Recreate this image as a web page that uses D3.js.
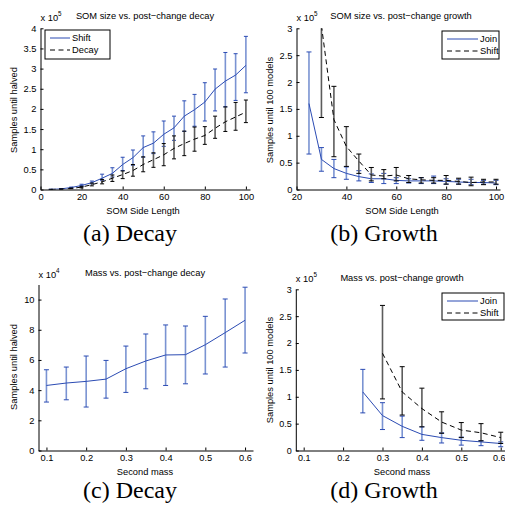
<!DOCTYPE html>
<html>
<head>
<meta charset="utf-8">
<script src="https://cdn.jsdelivr.net/npm/d3@7"></script>
<style>
  body { margin: 0; background: #fff; }
  svg text { font-family: "Liberation Sans", Arial, sans-serif; fill: #000; }
  svg text.cap { font-family: "Liberation Serif", "Times New Roman", serif; }
</style>
</head>
<body>
<div id="fig"></div>
<script>
// ---- data (units of 1e5 / 1e4 samples) ----
var somSide = [5, 10, 15, 20, 25, 30, 35, 40, 45, 50, 55, 60, 65, 70, 75, 80, 85, 90, 95, 100];
// (a) shift vs decay
var shiftDecayMean = [0.003, 0.015, 0.05, 0.1, 0.17, 0.28, 0.4, 0.62, 0.79, 1.04, 1.15, 1.37, 1.53, 1.82, 1.98, 2.17, 2.49, 2.69, 2.84, 3.08];
var shiftDecayHi   = [0.005, 0.02, 0.06, 0.13, 0.21, 0.38, 0.54, 0.8, 0.98, 1.33, 1.43, 1.7, 1.82, 2.2, 2.36, 2.65, 2.99, 3.4, 3.37, 3.8];
var shiftDecayLo   = [0.002, 0.01, 0.04, 0.08, 0.14, 0.22, 0.31, 0.47, 0.6, 0.8, 0.89, 1.07, 1.22, 1.44, 1.57, 1.7, 1.95, 2.05, 2.21, 2.4];
var decayMean = [0.002, 0.008, 0.025, 0.06, 0.12, 0.19, 0.28, 0.37, 0.47, 0.62, 0.74, 0.86, 1.02, 1.14, 1.25, 1.34, 1.52, 1.68, 1.8, 1.92];
var decayHi   = [0.003, 0.012, 0.035, 0.08, 0.16, 0.25, 0.36, 0.46, 0.62, 0.81, 0.91, 1.14, 1.33, 1.45, 1.55, 1.56, 1.82, 2.05, 2.16, 2.22];
var decayLo   = [0.001, 0.005, 0.015, 0.04, 0.09, 0.14, 0.2, 0.27, 0.33, 0.44, 0.55, 0.59, 0.76, 0.84, 0.95, 1.12, 1.27, 1.44, 1.47, 1.66];

// (b) join vs shift growth
var joinSide = [25, 30, 35, 40, 45, 50, 55, 60, 65, 70, 75, 80, 85, 90, 95, 100];
var joinGrowthMean = [1.6, 0.56, 0.39, 0.3, 0.24, 0.2, 0.2, 0.17, 0.16, 0.16, 0.16, 0.15, 0.14, 0.13, 0.13, 0.12];
var joinGrowthHi   = [2.56, 0.78, 0.56, 0.42, 0.35, 0.29, 0.3, 0.22, 0.2, 0.22, 0.25, 0.2, 0.19, 0.19, 0.17, 0.17];
var joinGrowthLo   = [0.66, 0.34, 0.22, 0.19, 0.16, 0.13, 0.11, 0.11, 0.12, 0.11, 0.11, 0.1, 0.1, 0.09, 0.1, 0.09];
var shiftSide = [30, 35, 40, 45, 50, 55, 60, 65, 70, 75, 80, 85, 90, 95, 100];
var shiftGrowthMean = [3.05, 1.3, 0.8, 0.53, 0.27, 0.25, 0.27, 0.2, 0.18, 0.17, 0.17, 0.15, 0.13, 0.14, 0.14];
var shiftGrowthHi   = [3.6, 1.92, 1.17, 0.66, 0.41, 0.37, 0.41, 0.26, 0.22, 0.22, 0.26, 0.21, 0.23, 0.19, 0.19];
var shiftGrowthLo   = [1.34, 0.61, 0.43, 0.3, 0.16, 0.2, 0.16, 0.13, 0.12, 0.12, 0.1, 0.1, 0.07, 0.09, 0.1];

// (c) mass vs decay (x 1e4)
var mass = [0.1, 0.15, 0.2, 0.25, 0.3, 0.35, 0.4, 0.45, 0.5, 0.55, 0.6];
var massDecayMean = [4.31, 4.47, 4.58, 4.73, 5.42, 5.93, 6.33, 6.35, 7.01, 7.81, 8.63];
var massDecayHi   = [5.35, 5.53, 6.26, 5.97, 6.92, 7.72, 8.32, 8.25, 8.89, 10.04, 10.82];
var massDecayLo   = [3.21, 3.36, 2.88, 3.47, 3.85, 4.09, 4.31, 4.42, 5.07, 5.53, 6.46];

// (d) mass vs growth
var massJoin = [0.25, 0.3, 0.35, 0.4, 0.45, 0.5, 0.55, 0.6];
var massJoinMean = [1.09, 0.65, 0.45, 0.3, 0.24, 0.19, 0.16, 0.13];
var massJoinHi   = [1.51, 0.89, 0.64, 0.44, 0.33, 0.25, 0.18, 0.16];
var massJoinLo   = [0.7, 0.39, 0.24, 0.19, 0.14, 0.1, 0.09, 0.07];
var massShift = [0.3, 0.35, 0.4, 0.45, 0.5, 0.55, 0.6];
var massShiftMean = [1.81, 1.09, 0.78, 0.53, 0.38, 0.33, 0.24];
var massShiftHi   = [2.7, 1.56, 1.16, 0.72, 0.52, 0.5, 0.34];
var massShiftLo   = [0.96, 0.66, 0.44, 0.32, 0.24, 0.18, 0.13];

var somTicks = [0, 20, 40, 60, 80, 100];
var somTicksB = [20, 40, 60, 80, 100];
var massTicks = [0.1, 0.2, 0.3, 0.4, 0.5, 0.6];

var BLUE = "#2b4bb3", BLUE_BAR = "#7a93d2", BLACK = "#000", GREY_BAR = "#5c5c5c";
var DASH = "5,3.5";
var FS = 9.3;

var svg = d3.select("#fig").append("svg")
  .attr("width", 505)
  .attr("height", 510);

function series(xs, mean, hi, lo, color, barColor, dash, label) {
  var pts = xs.map(function(v, i) {
    return {x: v, m: mean[i], hi: hi[i], lo: lo[i]};
  });
  return {pts: pts, color: color, barColor: barColor, dash: dash, label: label};
}

var clipId = 0;
function drawPanel(p) {
  var g = svg.append("g");
  var x = d3.scaleLinear().domain(p.xDomain).range(p.xRange);
  var y = d3.scaleLinear().domain(p.yDomain).range(p.yRange);
  var tfs = p.tickSize || FS;

  var cid = "clip" + (clipId++);
  g.append("clipPath").attr("id", cid).append("rect")
    .attr("x", p.xRange[0])
    .attr("y", p.yRange[1])
    .attr("width", p.xRange[1] - p.xRange[0])
    .attr("height", p.yRange[0] - p.yRange[1]);

  var plot = g.append("g").attr("clip-path", "url(#" + cid + ")");

  var line = d3.line()
    .x(function(d) { return x(d.x); })
    .y(function(d) { return y(d.m); });

  p.series.forEach(function(s) {
    var bars = plot.append("g");
    bars.selectAll("line.v").data(s.pts).enter().append("line")
      .attr("x1", function(d) { return x(d.x); })
      .attr("x2", function(d) { return x(d.x); })
      .attr("y1", function(d) { return y(d.lo); })
      .attr("y2", function(d) { return y(d.hi); })
      .attr("stroke", s.barColor)
      .attr("stroke-width", 1.6);
    ["hi", "lo"].forEach(function(k) {
      bars.selectAll("line.c" + k).data(s.pts).enter().append("line")
        .attr("x1", function(d) { return x(d.x) - p.capW; })
        .attr("x2", function(d) { return x(d.x) + p.capW; })
        .attr("y1", function(d) { return y(d[k]); })
        .attr("y2", function(d) { return y(d[k]); })
        .attr("stroke", s.color)
        .attr("stroke-width", 1);
    });
    plot.append("path")
      .datum(s.pts)
      .attr("fill", "none")
      .attr("stroke", s.color)
      .attr("stroke-width", 1)
      .attr("stroke-dasharray", s.dash)
      .attr("d", line);
  });

  // axes, ticks pointing inward (matlab style, box off)
  var xa = g.append("g")
    .attr("transform", "translate(0," + p.yRange[0] + ")")
    .call(d3.axisBottom(x).tickValues(p.xTicks).tickSizeInner(-3).tickSizeOuter(0).tickPadding(4)
      .tickFormat(p.xFormat));
  xa.selectAll("text").attr("font-size", tfs).attr("font-family", "Liberation Sans, Arial, sans-serif");
  xa.select(".domain").attr("stroke", "#000");
  if (p.lastTickDx) {
    xa.selectAll(".tick text").filter(function(d, i, n) { return i === n.length - 1; })
      .attr("dx", p.lastTickDx);
  }

  var ya = g.append("g")
    .attr("transform", "translate(" + p.xRange[0] + ",0)")
    .call(d3.axisLeft(y).tickValues(p.yTicks).tickSizeInner(-3).tickSizeOuter(0).tickPadding(4)
      .tickFormat(d3.format("~g")));
  ya.selectAll("text").attr("font-size", tfs).attr("font-family", "Liberation Sans, Arial, sans-serif");
  ya.select(".domain").attr("stroke", "#000");

  // exponent
  var ex = g.append("text")
    .attr("x", p.xRange[0])
    .attr("y", p.yRange[1] - 7)
    .attr("font-size", 9.3)
    .text("x 10");
  ex.append("tspan").attr("dy", -5).attr("font-size", 6.3).text(p.exp);

  g.append("text")
    .attr("x", p.titleX)
    .attr("y", p.titleY)
    .attr("text-anchor", "middle")
    .attr("font-size", FS)
    .text(p.title);

  g.append("text")
    .attr("x", p.xLabelX)
    .attr("y", p.yRange[0] + 24)
    .attr("text-anchor", "middle")
    .attr("font-size", FS)
    .text(p.xLabel);

  g.append("text")
    .attr("transform", "translate(" + p.yLabelX + "," + p.yLabelY + ") rotate(-90)")
    .attr("text-anchor", "middle")
    .attr("font-size", FS)
    .text(p.yLabel);

  if (p.legend) {
    var L = p.legend;
    var lg = g.append("g").attr("transform", "translate(" + L.x + "," + L.y + ")");
    lg.append("rect")
      .attr("width", L.w).attr("height", L.h)
      .attr("fill", "#fff").attr("stroke", "#000").attr("stroke-width", 1);
    p.series.forEach(function(s, i) {
      var yy = 8 + i * 12;
      lg.append("line")
        .attr("x1", 5).attr("x2", L.lineEnd)
        .attr("y1", yy).attr("y2", yy)
        .attr("stroke", s.color).attr("stroke-width", 1)
        .attr("stroke-dasharray", s.dash);
      lg.append("text")
        .attr("x", L.lineEnd + 2).attr("y", yy + 3.3)
        .attr("font-size", FS)
        .text(s.label);
    });
  }

  svg.append("text")
    .attr("class", "cap")
    .attr("x", p.capX)
    .attr("y", p.capY)
    .attr("text-anchor", "middle")
    .attr("font-size", 24)
    .text(p.caption);
}

var fmt1 = d3.format(".1f");

drawPanel({
  xDomain: [0, 102], xRange: [40.5, 250],
  yDomain: [0, 4], yRange: [189.5, 28.3],
  xTicks: somTicks, yTicks: d3.range(0, 4.01, 0.5), xFormat: d3.format("d"),
  capW: 2, exp: "5",
  title: "SOM size vs. post\u2212change decay", titleX: 145, titleY: 19,
  xLabel: "SOM Side Length", xLabelX: 143, yLabel: "Samples until halved", yLabelX: 17, yLabelY: 110,
  legend: {x: 45, y: 30, w: 65, h: 29, lineEnd: 25},
  caption: "(a) Decay", capX: 130, capY: 241,
  series: [
    series(somSide, shiftDecayMean, shiftDecayHi, shiftDecayLo, BLUE, BLUE_BAR, null, "Shift"),
    series(somSide, decayMean, decayHi, decayLo, BLACK, GREY_BAR, DASH, "Decay")
  ]
});

drawPanel({
  xDomain: [20, 101.6], xRange: [296.5, 500],
  yDomain: [0, 3], yRange: [189.5, 28.3],
  xTicks: somTicksB, yTicks: d3.range(0, 3.01, 0.5), xFormat: d3.format("d"),
  capW: 2.5, exp: "5",
  title: "SOM size vs. post\u2212change growth", titleX: 401, titleY: 19,
  xLabel: "SOM Side Length", xLabelX: 402, yLabel: "Samples until 100 models", yLabelX: 273, yLabelY: 110,
  legend: {x: 442, y: 31, w: 57, h: 28, lineEnd: 36},
  caption: "(b) Growth", capX: 384, capY: 241,
  series: [
    series(joinSide, joinGrowthMean, joinGrowthHi, joinGrowthLo, BLUE, BLUE_BAR, null, "Join"),
    series(shiftSide, shiftGrowthMean, shiftGrowthHi, shiftGrowthLo, BLACK, GREY_BAR, DASH, "Shift")
  ]
});

drawPanel({
  xDomain: [0.08, 0.62], xRange: [38.5, 253],
  yDomain: [0, 11], yRange: [450.5, 284.5],
  xTicks: massTicks, yTicks: [0, 2, 4, 6, 8, 10], xFormat: fmt1,
  capW: 2.5, exp: "4",
  title: "Mass vs. post\u2212change decay", titleX: 145, titleY: 276,
  xLabel: "Second mass", xLabelX: 145, yLabel: "Samples until halved", yLabelX: 17, yLabelY: 367,
  legend: null,
  caption: "(c) Decay", capX: 130, capY: 498,
  series: [
    series(mass, massDecayMean, massDecayHi, massDecayLo, BLUE, BLUE_BAR, null, "Decay")
  ]
});

drawPanel({
  xDomain: [0.08, 0.62], xRange: [295.8, 508.6],
  yDomain: [0, 3], yRange: [450.5, 289.3],
  xTicks: massTicks, yTicks: d3.range(0, 3.01, 0.5), xFormat: fmt1,
  tickSize: 9, lastTickDx: -2,
  capW: 2.5, exp: "5",
  title: "Mass vs. post\u2212change growth", titleX: 402, titleY: 281,
  xLabel: "Second mass", xLabelX: 402, yLabel: "Samples until 100 models", yLabelX: 273, yLabelY: 370,
  legend: {x: 442, y: 293, w: 62, h: 27, lineEnd: 36},
  caption: "(d) Growth", capX: 384, capY: 498,
  series: [
    series(massJoin, massJoinMean, massJoinHi, massJoinLo, BLUE, BLUE_BAR, null, "Join"),
    series(massShift, massShiftMean, massShiftHi, massShiftLo, BLACK, GREY_BAR, DASH, "Shift")
  ]
});
</script>
</body>
</html>
